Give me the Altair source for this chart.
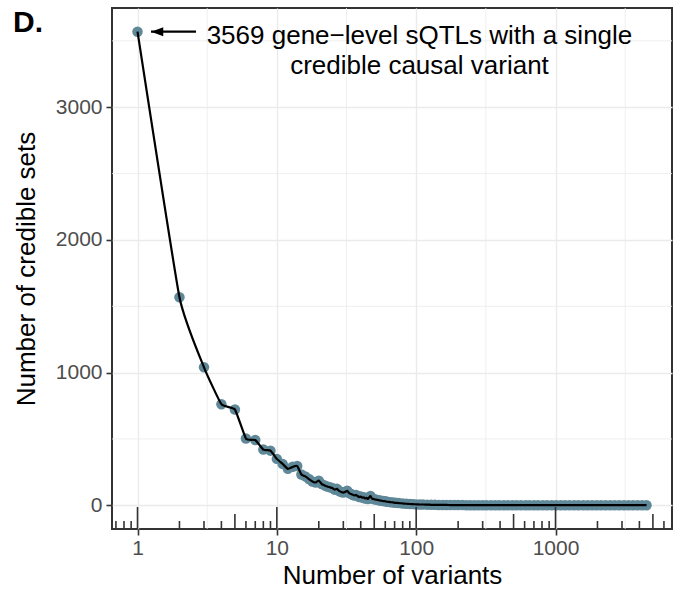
import altair as alt
import pandas as pd

# ---- data ----
n_variants = [1, 2, 3, 4, 5, 6, 7, 8, 9, 10,
              11, 12, 13, 14, 15, 16, 17, 18, 19, 20,
              21, 22, 23, 24, 25, 26, 27, 28, 29, 30,
              31, 32, 33, 34, 35, 36, 37, 38, 39, 40,
              41, 42, 43, 44, 45, 46, 47, 48, 50, 52,
              54, 56, 58, 60, 62, 65, 68, 71, 75, 80,
              85, 90, 95, 100, 106, 112, 120, 128, 136, 145,
              155, 165, 176, 188, 200, 215, 230, 245, 262, 280,
              300, 320, 345, 370, 395, 425, 455, 490, 525, 565,
              610, 650, 700, 750, 810, 870, 940, 1010, 1090, 1170,
              1260, 1360, 1460, 1580, 1700, 1830, 1970, 2120, 2290, 2470,
              2660, 2870, 3100, 3340, 3600, 3880, 4180, 4500]
n_sets = [3569, 1568, 1040, 762, 722, 503, 492, 420, 412, 350,
          312, 275, 290, 296, 232, 218, 198, 180, 172, 186,
          160, 150, 142, 136, 130, 118, 124, 108, 100, 96,
          102, 110, 92, 86, 80, 74, 78, 70, 62, 66,
          58, 60, 52, 56, 48, 60, 70, 52, 46, 42,
          38, 35, 32, 30, 27, 24, 22, 19, 17, 14,
          12, 10, 9, 7, 6, 6, 5, 4, 4, 3,
          3, 3, 2, 2, 2, 2, 1, 1, 1, 1,
          1, 1, 1, 1, 1, 1, 1, 1, 1, 1,
          1, 1, 1, 1, 1, 1, 1, 1, 1, 1,
          1, 1, 1, 1, 1, 1, 1, 1, 1, 1,
          1, 1, 1, 1, 1, 1, 1, 1]

x_major = [1, 10, 100, 1000]
x_minor_grid = [3.1623, 31.623, 316.23, 3162.3]
y_major = [0, 1000, 2000, 3000]
y_minor_grid = [500, 1500, 2500, 3500]

logtick_short = [0.7, 0.8, 0.9, 2, 3, 4, 6, 7, 8, 9,
                 20, 30, 40, 60, 70, 80, 90,
                 200, 300, 400, 600, 700, 800, 900,
                 2000, 3000, 4000, 6000]
logtick_mid = [5, 50, 500, 5000]
logtick_long = [1, 10, 100, 1000]

annot_lines = ["3569 gene\u2212level sQTLs with a single", "credible causal variant"]
annot_x = [105.6]
annot_y = [3569]
arrow_from = [2.63]
arrow_to = [1.25]
arrow_head_x = [1.385]
panel_tag = "D."

FONT = "Liberation Sans"
W, H = 560, 521

df = pd.DataFrame({"x": n_variants, "y": n_sets})

xscale = alt.Scale(type="log", domain=[0.656, 6855], nice=False)
yscale = alt.Scale(domain=[-178.45, 3747.45], nice=False, zero=False)

x_axis = alt.Axis(values=x_major, format="d", title="Number of variants",
                  labelFont=FONT, labelFontSize=21, labelColor="#4d4d4d",
                  tickColor="#333333", tickSize=6, tickWidth=1.6,
                  domain=False, grid=True, gridColor="#ebebeb", gridWidth=1.4,
                  labelPadding=2, titleFont=FONT, titleFontSize=26,
                  titleFontWeight="normal", titleColor="black", titlePadding=4)
y_axis = alt.Axis(values=y_major, format="d", title="Number of credible sets",
                  labelFont=FONT, labelFontSize=21, labelColor="#4d4d4d",
                  tickColor="#333333", tickSize=6, tickWidth=1.6,
                  domain=False, grid=True, gridColor="#ebebeb", gridWidth=1.4,
                  labelPadding=4, titleFont=FONT, titleFontSize=26,
                  titleFontWeight="normal", titleColor="black", titlePadding=16)


def X(field):
    return alt.X(field, scale=xscale, axis=x_axis)


def Y(field):
    return alt.Y(field, scale=yscale, axis=y_axis)


vgrid = alt.Chart(pd.DataFrame({"v": x_minor_grid})).mark_rule(
    color="#ebebeb", strokeWidth=0.8).encode(x=X("v:Q"))
hgrid = alt.Chart(pd.DataFrame({"v": y_minor_grid})).mark_rule(
    color="#ebebeb", strokeWidth=0.8).encode(y=Y("v:Q"))

points = alt.Chart(df).mark_circle(size=110, color="#5f8899", opacity=1).encode(
    x=X("x:Q"), y=Y("y:Q"))
line = alt.Chart(df).mark_line(color="black", strokeWidth=2.2,
                               interpolate="cardinal", tension=0.6).encode(
    x=X("x:Q"), y=Y("y:Q"))


def logticks(vals, length):
    return alt.Chart(pd.DataFrame({"v": vals})).mark_rule(
        color="#333333", strokeWidth=1.6).encode(
        x=X("v:Q"), y=alt.value(H), y2=alt.value(H - length))


ticks = logticks(logtick_short, 8) + logticks(logtick_mid, 15) + logticks(logtick_long, 22)

arrow_df = pd.DataFrame({"x1": arrow_from, "x2": arrow_to, "y": annot_y})
arrow_line = alt.Chart(arrow_df).mark_rule(color="black", strokeWidth=2.2).encode(
    x=X("x1:Q"), x2="x2:Q", y=Y("y:Q"))
arrow_head = alt.Chart(pd.DataFrame({"x": arrow_head_x, "y": annot_y})).mark_point(
    shape="M -1 0 L 1 -0.75 L 1 0.75 Z", filled=True, color="black", opacity=1, size=144).encode(
    x=X("x:Q"), y=Y("y:Q"))

annot = alt.Chart(pd.DataFrame({"x": annot_x, "y": annot_y, "t": [annot_lines]})).mark_text(
    font=FONT, fontSize=26, color="black", align="center", baseline="alphabetic",
    dy=12, lineHeight=30).encode(x=X("x:Q"), y=Y("y:Q"), text="t")

tag = alt.Chart(pd.DataFrame({"t": [panel_tag]})).mark_text(
    font=FONT, fontSize=30, fontWeight="bold", color="black", align="left",
    baseline="alphabetic").encode(x=alt.value(-99), y=alt.value(24), text="t")

chart = alt.layer(vgrid, hgrid, points, line, ticks, arrow_line, arrow_head, annot, tag).properties(
    width=W, height=H,
    autosize=alt.AutoSizeParams(type="none"),
    padding={"left": 112, "top": 8, "right": 9, "bottom": 66},
    background="white",
).configure_view(stroke="#333333", strokeWidth=2)

chart.save("out.html", embed_options={"renderer": "svg", "actions": False})
